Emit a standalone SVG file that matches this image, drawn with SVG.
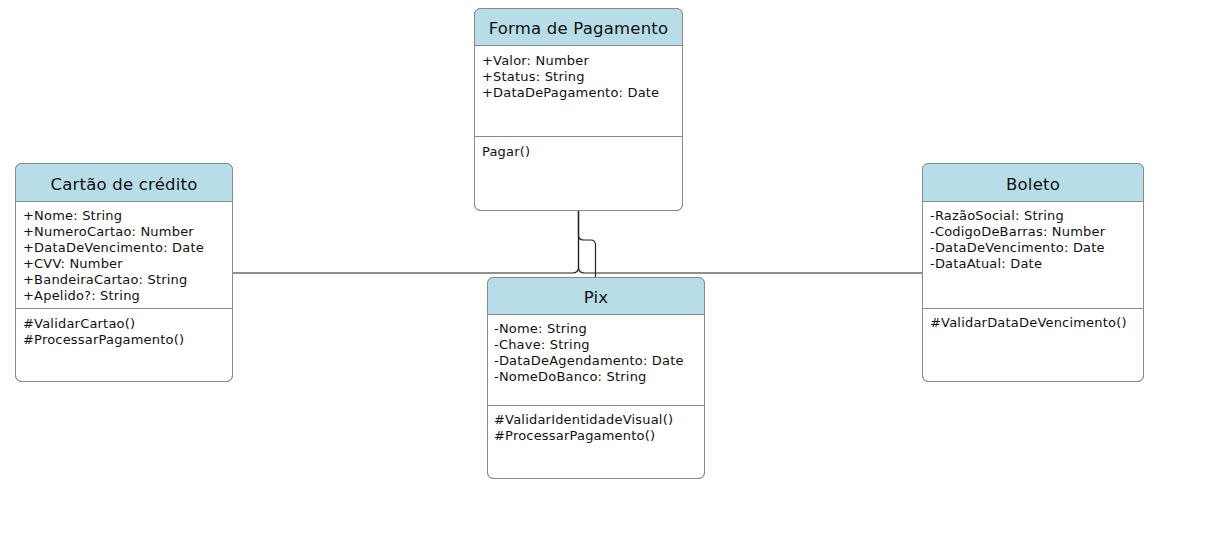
<svg xmlns="http://www.w3.org/2000/svg" width="1207" height="533" viewBox="0 0 1207 533">
<style>
.box{fill:#ffffff;stroke:#8a8a8a;stroke-width:1}
.hdr{fill:#b7dde8}
.sep{stroke:#8a8a8a;stroke-width:1}
.title{font-family:"DejaVu Sans",Verdana,sans-serif;font-size:16.5px;letter-spacing:0.2px;fill:#111;text-anchor:middle}
.t{font-family:"DejaVu Sans",Verdana,sans-serif;font-size:13px;letter-spacing:0.2px;fill:#111}
.c{fill:none;stroke:#222;stroke-width:1.2}
</style>
<rect width="1207" height="533" fill="#ffffff"/>
<g id="connectors">
<path class="c" d="M578.5 211 V267 Q578.5 273 572.5 273 H233"/>
<path class="c" d="M578.5 211 V267 Q578.5 273 584.5 273 H922"/>
<path class="c" d="M578.5 211 V235 Q578.5 240 583.5 240 H590.5 Q595.5 240 595.5 245 V277"/>
</g>
<g id="forma">
<rect class="box" x="474.5" y="8.5" width="208" height="202" rx="6"/>
<path class="hdr" d="M475 45 V15 Q475 9 481 9 H676 Q682 9 682 15 V45 Z"/>
<line class="sep" x1="474.5" y1="45.5" x2="682.5" y2="45.5"/>
<line class="sep" x1="474.5" y1="136.5" x2="682.5" y2="136.5"/>
<rect x="474.5" y="8.5" width="208" height="202" rx="6" fill="none" stroke="#8a8a8a"/>
<text class="title" x="578.5" y="34">Forma de Pagamento</text>
<text class="t" x="482" y="65">+Valor: Number</text>
<text class="t" x="482" y="81">+Status: String</text>
<text class="t" x="482" y="97">+DataDePagamento: Date</text>
<text class="t" x="482" y="156">Pagar()</text>
</g>
<g id="cartao">
<rect class="box" x="15.5" y="163.5" width="217" height="218" rx="6"/>
<path class="hdr" d="M16 201 V170 Q16 164 22 164 H226 Q232 164 232 170 V201 Z"/>
<line class="sep" x1="15.5" y1="201.5" x2="232.5" y2="201.5"/>
<line class="sep" x1="15.5" y1="308.5" x2="232.5" y2="308.5"/>
<rect x="15.5" y="163.5" width="217" height="218" rx="6" fill="none" stroke="#8a8a8a"/>
<text class="title" x="124" y="190">Cartão de crédito</text>
<text class="t" x="23" y="220">+Nome: String</text>
<text class="t" x="23" y="236">+NumeroCartao: Number</text>
<text class="t" x="23" y="252">+DataDeVencimento: Date</text>
<text class="t" x="23" y="268">+CVV: Number</text>
<text class="t" x="23" y="284">+BandeiraCartao: String</text>
<text class="t" x="23" y="300">+Apelido?: String</text>
<text class="t" x="23" y="328">#ValidarCartao()</text>
<text class="t" x="23" y="344">#ProcessarPagamento()</text>
</g>
<g id="boleto">
<rect class="box" x="922.5" y="163.5" width="221" height="218" rx="6"/>
<path class="hdr" d="M923 201 V170 Q923 164 929 164 H1137 Q1143 164 1143 170 V201 Z"/>
<line class="sep" x1="922.5" y1="201.5" x2="1143.5" y2="201.5"/>
<line class="sep" x1="922.5" y1="308.5" x2="1143.5" y2="308.5"/>
<rect x="922.5" y="163.5" width="221" height="218" rx="6" fill="none" stroke="#8a8a8a"/>
<text class="title" x="1033" y="190">Boleto</text>
<text class="t" x="930" y="220">-RazãoSocial: String</text>
<text class="t" x="930" y="236">-CodigoDeBarras: Number</text>
<text class="t" x="930" y="252">-DataDeVencimento: Date</text>
<text class="t" x="930" y="268">-DataAtual: Date</text>
<text class="t" x="930" y="327">#ValidarDataDeVencimento()</text>
</g>
<g id="pix">
<rect class="box" x="487.5" y="277.5" width="217" height="201" rx="6"/>
<path class="hdr" d="M488 314 V284 Q488 278 494 278 H698 Q704 278 704 284 V314 Z"/>
<line class="sep" x1="487.5" y1="314.5" x2="704.5" y2="314.5"/>
<line class="sep" x1="487.5" y1="405.5" x2="704.5" y2="405.5"/>
<rect x="487.5" y="277.5" width="217" height="201" rx="6" fill="none" stroke="#8a8a8a"/>
<text class="title" x="596" y="303">Pix</text>
<text class="t" x="494" y="333">-Nome: String</text>
<text class="t" x="494" y="349">-Chave: String</text>
<text class="t" x="494" y="365">-DataDeAgendamento: Date</text>
<text class="t" x="494" y="381">-NomeDoBanco: String</text>
<text class="t" x="494" y="424">#ValidarIdentidadeVisual()</text>
<text class="t" x="494" y="440">#ProcessarPagamento()</text>
</g>
</svg>
